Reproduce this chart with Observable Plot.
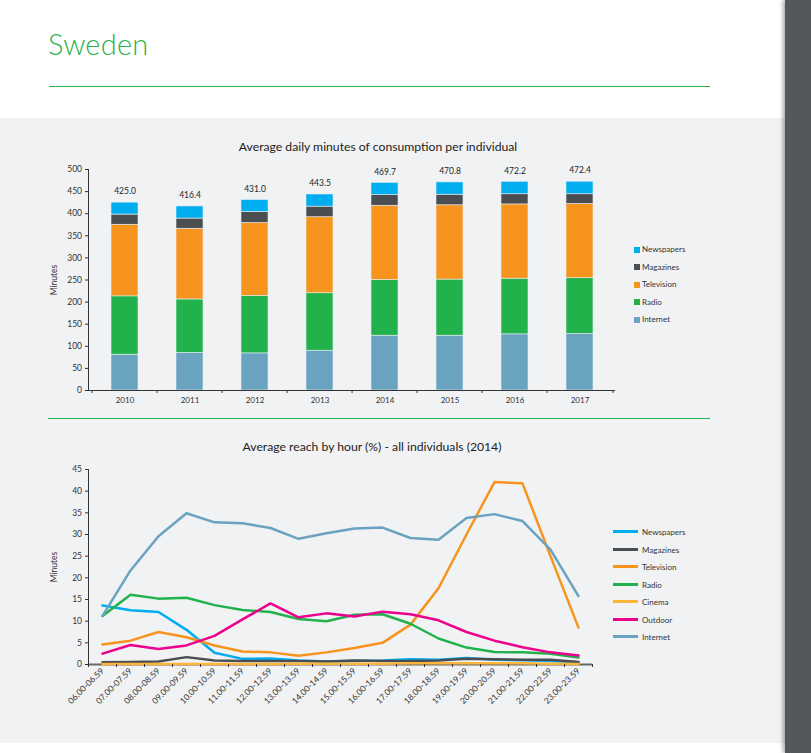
<!DOCTYPE html>
<html><head><meta charset="utf-8">
<script src="https://cdn.jsdelivr.net/npm/d3@7"></script>
<script src="https://cdn.jsdelivr.net/npm/@observablehq/plot@0.6"></script>
<style>
body{margin:0;width:811px;height:753px;overflow:hidden;background:#fff;font-family:Lato,"Open Sans",sans-serif;position:relative}
.abs{position:absolute}
#panel{left:0;top:118px;width:785px;height:625px;background:#f1f2f4}
#strip{left:785px;top:0;width:26px;height:753px;background:#54585b;box-shadow:-2px 0 4px rgba(0,0,0,0.35)}
#country{left:48px;top:26px;font-size:29px;font-weight:300;color:#2ab34b;letter-spacing:0.2px}
.hr{height:1px;background:#2ab34b}
.title{font-size:12.2px;color:#222;white-space:nowrap;transform:translateX(-50%)}
.leg{font-size:8px;color:#333;white-space:nowrap;line-height:10px}
.sq{display:inline-block;width:6px;height:6px;margin-right:2px;vertical-align:-0.5px}
.ln{display:inline-block;width:25px;height:3px;margin-right:4px;vertical-align:2px}
</style></head><body>
<div class="abs" id="panel"></div>
<div class="abs" id="strip"></div>
<div class="abs" id="country">Sweden</div>
<div class="abs hr" style="left:49px;top:86px;width:661px"></div>
<div class="abs hr" style="left:48px;top:418px;width:662px"></div>
<div class="abs title" style="left:378px;top:139px">Average daily minutes of consumption per individual</div>
<div class="abs title" style="left:372px;top:439px">Average reach by hour (%) - all individuals (2014)</div>
<div class="abs" id="topChart" style="left:0;top:155px"></div>
<div class="abs" id="bottomChart" style="left:0;top:455px"></div>
<div class="abs" id="leg1" style="left:634px;top:244px"></div>
<div class="abs" id="leg2" style="left:613px;top:527px"></div>
<script>
// ---- Top chart data ----
const years = ["2010","2011","2012","2013","2014","2015","2016","2017"];
const barMedia = ["Internet","Radio","Television","Magazines","Newspapers"];
const internetMin   = [81, 85, 84, 90, 124, 124, 127, 128];
const radioMin      = [132, 121, 130, 130, 126, 127, 126, 126];
const televisionMin = [162, 160, 165, 172, 168, 168, 168, 168];
const magazinesMin  = [23, 23, 25, 24, 24, 24, 23, 22];
const newspapersMin = [27, 27.4, 27, 27.5, 27.7, 27.8, 28.2, 28.4];
const minuteTicks = [0,50,100,150,200,250,300,350,400,450,500];

// ---- Bottom chart data ----
const hours = ["06.00-06.59","07.00-07.59","08.00-08.59","09.00-09.59","10.00-10.59","11.00-11.59","12.00-12.59","13.00-13.59","14.00-14.59","15.00-15.59","16.00-16.59","17.00-17.59","18.00-18.59","19.00-19.59","20.00-20.59","21.00-21.59","22.00-22.59","23.00-23.59"];
const lineMedia = ["Newspapers","Magazines","Television","Radio","Cinema","Outdoor","Internet"];
const newspapersReach = [13.6,12.5,12.1,8.0,2.7,1.3,1.4,0.9,0.7,0.8,0.9,1.2,1.1,1.5,1.1,1.0,0.8,0.5];
const magazinesReach  = [0.5,0.6,0.7,1.7,0.9,0.8,0.8,0.8,0.7,0.9,0.8,0.8,0.9,1.3,1.2,1.1,1.1,0.6];
const televisionReach = [4.6,5.5,7.5,6.3,4.4,3.0,2.8,2.0,2.8,3.8,5.0,9.2,17.6,30.0,42.1,41.8,25.0,8.5];
const radioReach      = [11.2,16.1,15.2,15.4,13.7,12.6,12.1,10.5,10.0,11.5,11.6,9.4,6.0,3.9,2.9,2.8,2.5,1.6];
const cinemaReach     = [0.1,0.1,0.1,0.1,0.1,0.1,0.1,0.2,0.2,0.2,0.2,0.3,0.3,0.3,0.3,0.3,0.2,0.1];
const outdoorReach    = [2.5,4.5,3.6,4.4,6.6,10.4,14.1,10.9,11.8,11.1,12.2,11.6,10.2,7.5,5.5,4.0,2.8,2.1];
const internetReach   = [11.2,21.7,29.6,34.9,32.8,32.6,31.5,29.0,30.3,31.4,31.6,29.2,28.8,33.8,34.7,33.1,26.5,15.8];
const reachTicks = [0,5,10,15,20,25,30,35,40,45];

const colors = {Newspapers:"#00aeef", Magazines:"#4b4e51", Television:"#f7941d", Radio:"#22b24c", Cinema:"#fdb53c", Outdoor:"#ec008c", Internet:"#6aa3c0"};

const barSeries = {Internet: internetMin, Radio: radioMin, Television: televisionMin, Magazines: magazinesMin, Newspapers: newspapersMin};
const barData = [];
years.forEach((y, i) => barMedia.forEach(m => barData.push({year: y, media: m, value: barSeries[m][i]})));
const totals = years.map((y, i) => ({year: y, total: d3.sum(barMedia, m => barSeries[m][i])}));

const W = 785, mL = 88, mR = 170;
const step = (W - mL - mR) / years.length;
const axisFont = {fontFamily: "Lato, 'Open Sans', sans-serif", fontSize: "8px", color: "#333", background: "none", overflow: "visible"};

const topPlot = Plot.plot({
  width: W, height: 270, marginLeft: mL, marginRight: mR, marginTop: 14, marginBottom: 35,
  style: axisFont,
  x: {type: "band", domain: years, paddingInner: 0.59, paddingOuter: 0.295, label: null},
  y: {domain: [0, 500], label: null},
  color: {domain: Object.keys(colors), range: Object.values(colors)},
  marks: [
    Plot.barY(barData, {x: "year", y: "value", fill: "media", stroke: "#e8eef2", strokeWidth: 0.6}),
    Plot.text(totals, {x: "year", y: "total", text: d => d.total.toFixed(1), dy: -11, fontSize: 8.5, fill: "#222"}),
    Plot.ruleY([0], {stroke: "#333", strokeWidth: 1.2}),
    Plot.frame({anchor: "left", stroke: "#333", strokeWidth: 1}),
    Plot.axisY({ticks: minuteTicks, tickSize: 3, tickPadding: 3.5, label: "Minutes", labelAnchor: "center", labelOffset: 38, labelArrow: "none", fontSize: 8.5, stroke: "#333"}),
    Plot.axisX({ticks: years, tickSize: 0, tickPadding: 7, fontSize: 8, label: null}),
    Plot.axisX({ticks: years, tickSize: 3, tickFormat: () => "", dx: -step / 2, label: null, stroke: "#333"}),
    Plot.axisX({ticks: years.slice(-1), tickSize: 3, tickFormat: () => "", dx: step / 2, label: null, stroke: "#333"})
  ]
});
document.getElementById("topChart").append(topPlot);

const lineSeries = {Newspapers: newspapersReach, Magazines: magazinesReach, Television: televisionReach, Radio: radioReach, Cinema: cinemaReach, Outdoor: outdoorReach, Internet: internetReach};
const lineData = [];
lineMedia.forEach(m => lineSeries[m].forEach((v, i) => lineData.push({media: m, i, v})));
const idx = hours.map((h, i) => i);

const bottomPlot = Plot.plot({
  width: W, height: 284, marginLeft: 88, marginRight: 193, marginTop: 14, marginBottom: 75,
  style: axisFont,
  x: {type: "linear", domain: [-0.5, hours.length - 0.5], label: null},
  y: {domain: [0, 45], label: null},
  color: {domain: Object.keys(colors), range: Object.values(colors)},
  marks: [
    Plot.ruleY([0], {stroke: "#666", strokeWidth: 1.8}),
    Plot.ruleX([-0.5], {stroke: "#333", strokeWidth: 1}),
    Plot.line(lineData, {x: "i", y: "v", stroke: "media", z: "media", strokeWidth: 2.5, strokeLinejoin: "round"}),
    Plot.axisY({ticks: reachTicks, tickSize: 3, tickPadding: 3.5, label: "Minutes", labelAnchor: "center", labelOffset: 38, labelArrow: "none", fontSize: 8.5, stroke: "#333"}),
    Plot.axisX({ticks: idx, tickFormat: i => hours[i], tickRotate: -45, tickSize: 0, tickPadding: 5, fontSize: 8.5, label: null}),
    Plot.axisX({ticks: d3.range(hours.length + 1).map(k => k - 0.5), tickSize: 3, tickFormat: () => "", label: null, stroke: "#333"})
  ]
});
document.getElementById("bottomChart").append(bottomPlot);

// Legends
const leg1 = document.getElementById("leg1");
[...barMedia].reverse().forEach((m, k) => {
  const d = document.createElement("div");
  d.className = "leg abs";
  d.style.top = (k * 17.5) + "px";
  d.innerHTML = `<span class="sq" style="background:${colors[m]}"></span>${m}`;
  leg1.append(d);
});
const leg2 = document.getElementById("leg2");
lineMedia.forEach((m, k) => {
  const d = document.createElement("div");
  d.className = "leg abs";
  d.style.top = (k * 17.5) + "px";
  d.innerHTML = `<span class="ln" style="background:${colors[m]}"></span>${m}`;
  leg2.append(d);
});
</script>
</body></html>
